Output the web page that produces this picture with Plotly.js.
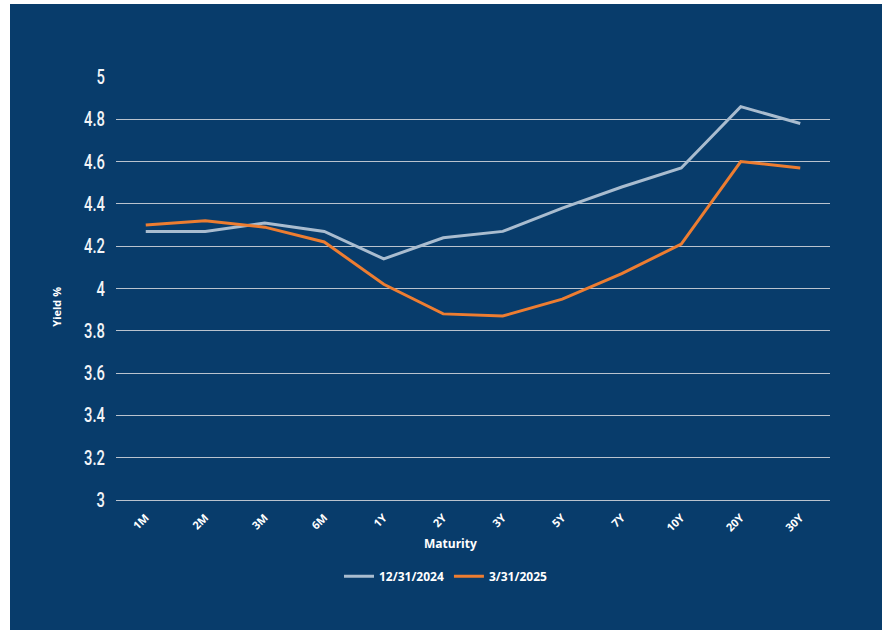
<!DOCTYPE html>
<html>
<head>
<meta charset="utf-8">
<script src="https://cdn.plot.ly/plotly-3.0.1.min.js"></script>
<style>
  html, body { margin: 0; padding: 0; background: #ffffff; width: 882px; height: 630px; overflow: hidden; }
  #chart { position: absolute; left: 10px; top: 4px; width: 872px; height: 626px; }
</style>
</head>
<body>
<div id="chart"></div>
<script>
const maturities = ["1M", "2M", "3M", "6M", "1Y", "2Y", "3Y", "5Y", "7Y", "10Y", "20Y", "30Y"];
const yieldsDec2024 = [4.27, 4.27, 4.31, 4.27, 4.14, 4.24, 4.27, 4.38, 4.48, 4.57, 4.86, 4.78];
const yieldsMar2025 = [4.30, 4.32, 4.29, 4.22, 4.02, 3.88, 3.87, 3.95, 4.07, 4.21, 4.60, 4.57];
const seriesNames = ["12/31/2024", "3/31/2025"];

const bg = "#083c6b";
const gridColor = "#b9c3ce";
const tickNumFont = "Roboto, 'DejaVu Sans', sans-serif";
const labelFont = "'Open Sans', 'Liberation Sans', sans-serif";

const traces = [
  {
    x: maturities, y: yieldsDec2024, name: seriesNames[0], type: "scatter", mode: "lines",
    line: { color: "#a9bccf", width: 3 }
  },
  {
    x: maturities, y: yieldsMar2025, name: seriesNames[1], type: "scatter", mode: "lines",
    line: { color: "#ed7d31", width: 3 }
  }
];

const layout = {
  width: 872, height: 626,
  paper_bgcolor: bg, plot_bgcolor: bg,
  margin: { l: 106, r: 52, t: 73, b: 130 },
  showlegend: true,
  legend: {
    orientation: "h", xref: "container", yref: "container",
    x: 0.5, xanchor: "center", y: 0.086, yanchor: "middle",
    font: { family: labelFont, size: 12, color: "#ffffff", weight: "bold" },
    bgcolor: "rgba(0,0,0,0)", itemwidth: 30, tracegroupgap: 0
  },
  xaxis: {
    type: "category",
    range: [-0.5, maturities.length - 0.5],
    showgrid: false, zeroline: false,
    showline: true, linecolor: gridColor, linewidth: 1,
    ticks: "",
    tickangle: -45,
    ticklabelstandoff: 6,
    tickfont: { family: labelFont, size: 11, color: "#ffffff", weight: "bold" },
    fixedrange: true
  },
  yaxis: {
    range: [3, 5], dtick: 0.2, tick0: 3,
    showgrid: true, gridcolor: gridColor, gridwidth: 1,
    zeroline: false, showline: false, ticks: "",
    ticklabelstandoff: 10,
    tickfont: { family: tickNumFont, size: 20, color: "#f2f4f7", weight: 500 },
    fixedrange: true
  },
  annotations: [
    {
      text: "Maturity", xref: "paper", yref: "paper", x: 0.469, y: -0.1017,
      xanchor: "center", yanchor: "middle", showarrow: false,
      font: { family: labelFont, size: 12, color: "#ffffff", weight: "bold" }
    },
    {
      text: "Yield %", xref: "paper", yref: "paper", x: -0.0826, y: 0.457,
      xanchor: "center", yanchor: "middle", showarrow: false, textangle: -90,
      font: { family: labelFont, size: 11, color: "#ffffff", weight: "bold" }
    }
  ]
};

Plotly.newPlot("chart", traces, layout, { displayModeBar: false, staticPlot: true }).then(function (gd) {
  // Narrow the y tick numerals to mimic the condensed face of the original
  gd.querySelectorAll(".ytick text").forEach(function (t) {
    const bb = t.getBBox();
    const xr = bb.x + bb.width;
    const prev = t.getAttribute("transform") || "";
    t.setAttribute("transform", prev + " translate(" + xr + ",0) scale(0.74,1) translate(" + (-xr) + ",0)");
  });
});
</script>
</body>
</html>
